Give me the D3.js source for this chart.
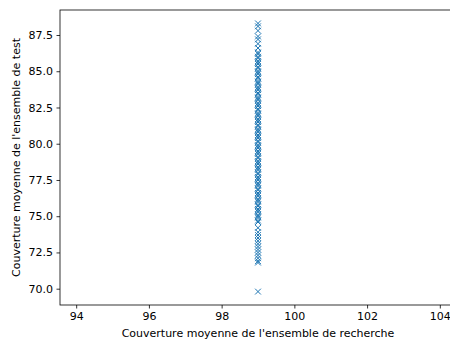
<!DOCTYPE html>
<html><head><meta charset="utf-8">
<script src="https://cdn.jsdelivr.net/npm/d3@7"></script>
<style>body{margin:0;background:#fff}svg{display:block}text{font-family:"DejaVu Sans",sans-serif}</style>
</head><body>
<svg id="c" width="450" height="339"></svg>
<script>
const xLabel = "Couverture moyenne de l'ensemble de recherche";
const yLabel = "Couverture moyenne de l'ensemble de test";
const xTicks = [94, 96, 98, 100, 102, 104];
const yTicks = [70.0, 72.5, 75.0, 77.5, 80.0, 82.5, 85.0, 87.5];
const searchCoverage = 99.0;
const testCoverage = [
 88.3, 88.1, 87.8, 87.4, 87.2, 86.9, 86.6, 86.3, 86.2, 86.0, 85.9, 85.7, 85.6, 85.5,
 85.3, 85.2, 85.0, 84.9, 84.8, 84.6, 84.5, 84.3, 84.2, 84.1, 83.9, 83.8, 83.7, 83.5,
 83.4, 83.2, 83.1, 83.0, 82.8, 82.7, 82.6, 82.4, 82.3, 82.1, 82.0, 81.9, 81.7, 81.6,
 81.5, 81.3, 81.2, 81.0, 80.9, 80.8, 80.6, 80.5, 80.4, 80.2, 80.1, 79.9, 79.8, 79.7,
 79.5, 79.4, 79.3, 79.1, 79.0, 78.8, 78.7, 78.6, 78.4, 78.3, 78.2, 78.0, 77.9, 77.7,
 77.6, 77.5, 77.3, 77.2, 77.1, 76.9, 76.8, 76.6, 76.5, 76.4, 76.2, 76.1, 76.0, 75.8,
 75.7, 75.5, 75.4, 75.3, 75.1, 75.0, 74.9, 74.7, 74.6, 74.2, 73.9, 73.7, 73.5, 73.3,
 73.1, 72.9, 72.7, 72.5, 72.3, 72.1, 71.9, 71.8, 69.8
];
const svg = d3.select("#c");
const L = 60, R = 456, T = 10, B = 305;
const x = d3.scaleLinear().domain([93.555, 104.445]).range([L, R]);
const y = d3.scaleLinear().domain([68.875, 89.225]).range([B, T]);
const fs = "11px";
// points
const s = 2.9;
const g = svg.append("g");
testCoverage.forEach(v => {
  const cx = x(searchCoverage), cy = y(v);
  g.append("path").attr("d", `M${cx-s},${cy-s}L${cx+s},${cy+s}M${cx-s},${cy+s}L${cx+s},${cy-s}`)
   .attr("stroke", "#1f77b4").attr("stroke-width", 1).attr("fill", "none");
});
// axes
const xa = svg.append("g").attr("transform", `translate(0,${B})`)
  .call(d3.axisBottom(x).tickValues(xTicks).tickFormat(d3.format("d")).tickSize(3.5).tickPadding(3.5));
const ya = svg.append("g").attr("transform", `translate(${L},0)`)
  .call(d3.axisLeft(y).tickValues(yTicks).tickFormat(d3.format(".1f")).tickSize(3.5).tickPadding(3.5));
[xa, ya].forEach(a => {
  a.select(".domain").remove();
  a.selectAll("text").attr("font-size", fs).attr("fill", "#000").style("font-family", "DejaVu Sans");
  a.selectAll("line").attr("stroke", "#000").attr("stroke-width", 0.8);
});
svg.append("rect").attr("x", L).attr("y", T).attr("width", R - L).attr("height", B - T)
  .attr("fill", "none").attr("stroke", "#000").attr("stroke-width", 0.8);
svg.append("text").attr("x", (L + R) / 2).attr("y", 337).attr("text-anchor", "middle")
  .attr("font-size", fs).text(xLabel);
svg.append("text").attr("transform", `translate(20,${(T + B) / 2}) rotate(-90)`)
  .attr("text-anchor", "middle").attr("font-size", fs).text(yLabel);
</script>
</body></html>
